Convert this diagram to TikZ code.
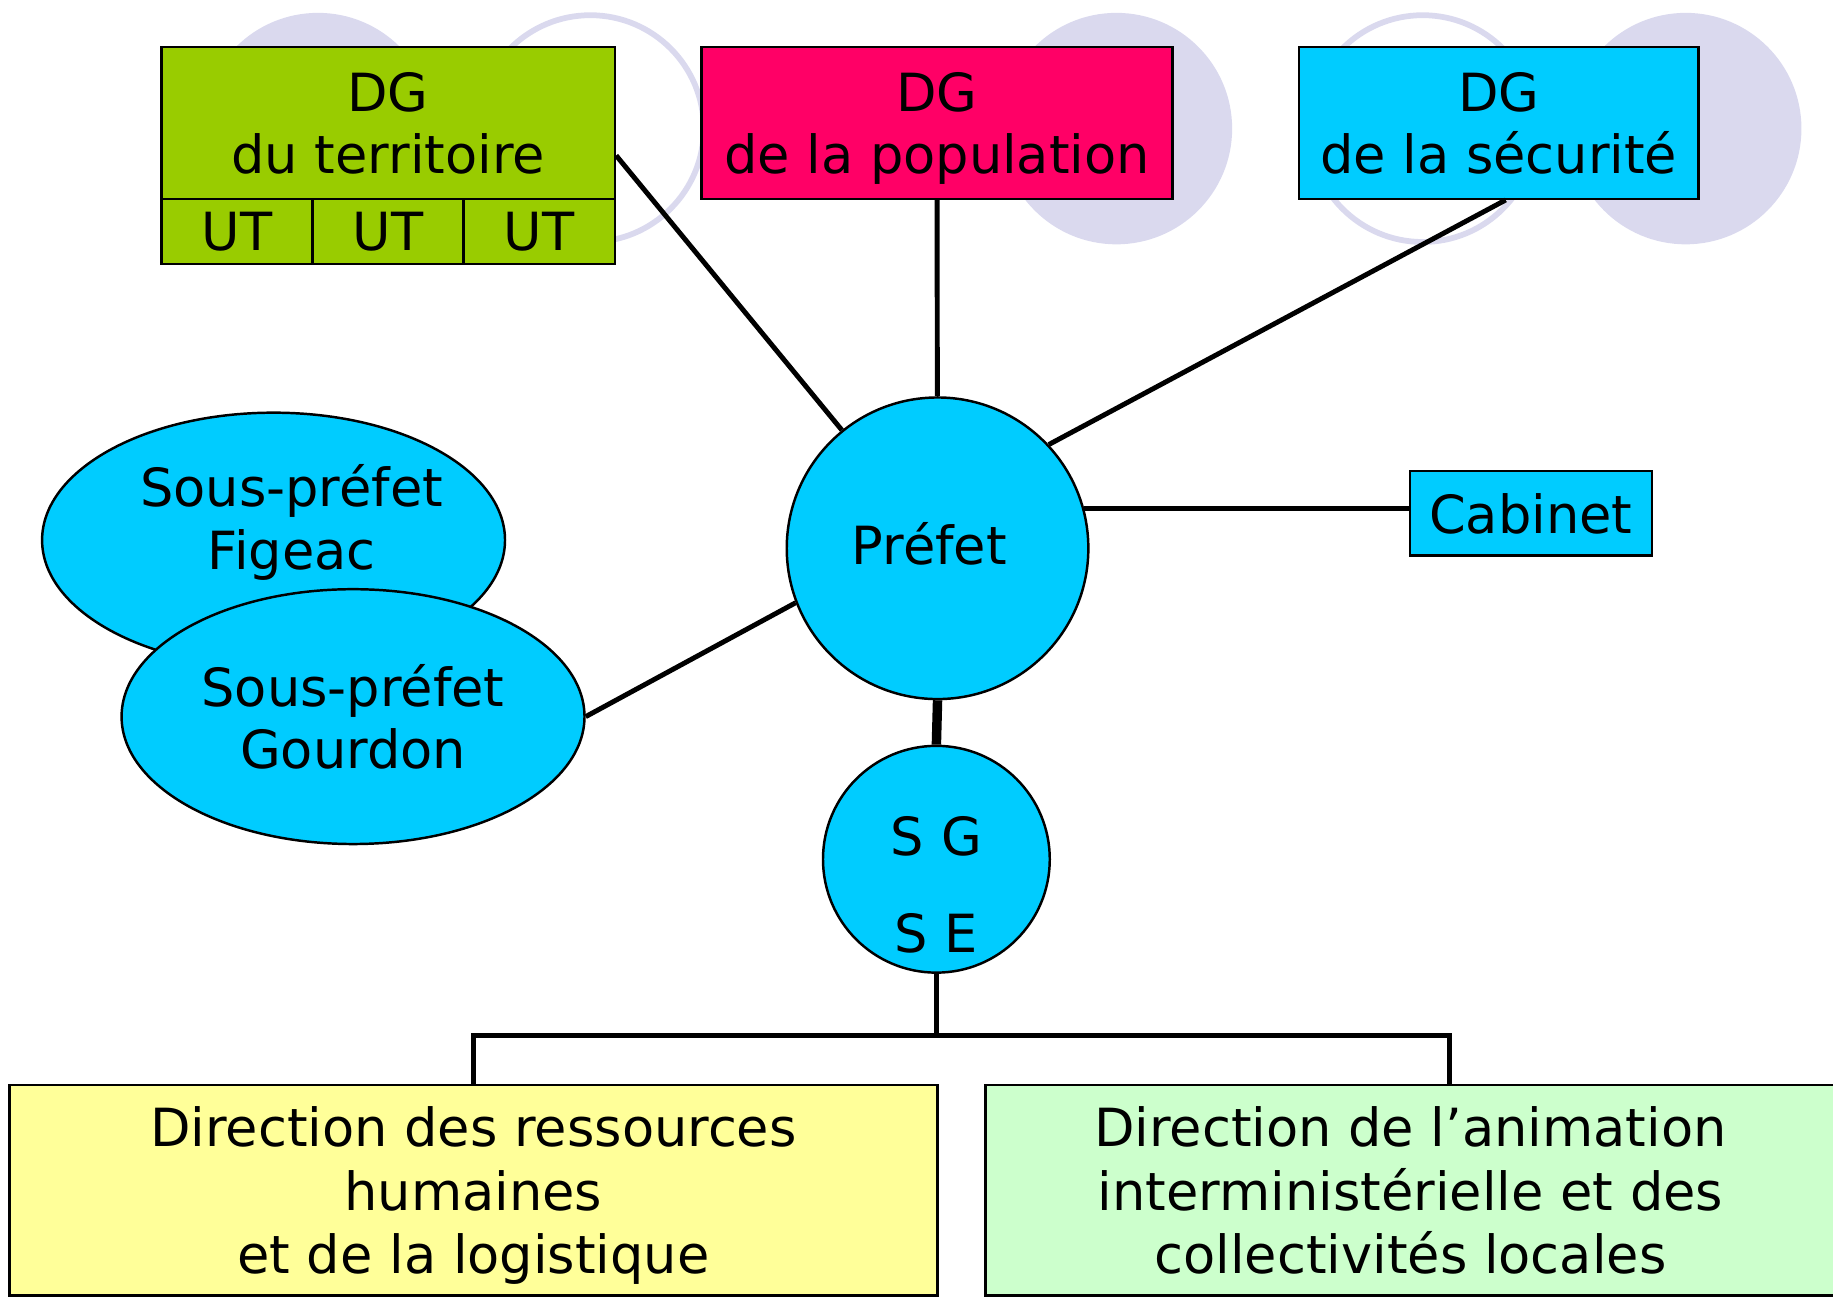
\documentclass[tikz,border=0pt]{standalone}
\usepackage{fontspec}
\setmainfont{DejaVu Sans}
\usetikzlibrary{shapes.geometric}
\definecolor{vert}{HTML}{99CC00}
\definecolor{rose}{HTML}{FF0066}
\definecolor{ciel}{HTML}{00CCFF}
\definecolor{jaune}{HTML}{FFFF99}
\definecolor{menthe}{HTML}{CCFFCC}
\definecolor{lavande}{HTML}{DAD9EE}
\tikzset{
  boite/.style={draw,line width=0.6pt,rectangle,inner sep=0pt,align=center,text depth=0pt},
  blob/.style={draw,line width=0.6pt,ellipse,fill=ciel,inner sep=0pt,minimum width=3.96cm,minimum height=2.18cm,align=center},
  rond/.style={draw,line width=0.6pt,circle,fill=ciel,inner sep=0pt},
  lien/.style={line width=1.2pt},
  bulle/.style={fill=lavande},
  anneau/.style={draw=lavande,line width=1.4pt}
}
\begin{document}
\begin{tikzpicture}[font=\fontsize{12.8}{15.2}\selectfont]
  \clip (0,0) rectangle (15.68,-11.11);
  \fill[bulle] (2.72,-1.1) circle (0.99) (9.55,-1.1) circle (0.99) (14.42,-1.1) circle (0.99);
  \draw[anneau] (5.05,-1.1) circle (0.97) (12.17,-1.1) circle (0.97);
  \node[boite,fill=vert,minimum width=3.88cm,minimum height=1.3cm] (terr) at (3.32,-1.05) {DG\\du territoire};
  \node[boite,fill=vert,minimum width=1.293cm,minimum height=0.56cm] (ut1) at (2.027,-1.98) {UT};
  \node[boite,fill=vert,minimum width=1.293cm,minimum height=0.56cm] (ut2) at (3.32,-1.98) {UT};
  \node[boite,fill=vert,minimum width=1.293cm,minimum height=0.56cm] (ut3) at (4.613,-1.98) {UT};
  \node[boite,fill=rose,minimum width=4.03cm,minimum height=1.3cm] (pop) at (8.015,-1.05) {DG\\de la population};
  \node[boite,fill=ciel,minimum width=3.42cm,minimum height=1.3cm] (secu) at (12.82,-1.05) {DG\\de la sécurité};
  \node[rond,minimum size=2.58cm,label={[xshift=-0.7mm,yshift=0.4mm]center:Préfet}] (prefet) at (8.02,-4.69) {};
  \node[boite,fill=ciel,minimum width=2.07cm,minimum height=0.72cm] (cabinet) at (13.095,-4.39) {Cabinet};
  \node[blob,label={[align=center,shift={(0.155,0.15)}]center:{Sous-préfet\\Figeac}}] (figeac) at (2.34,-4.62) {};
  \node[blob] (gourdon) at (3.02,-6.13) {Sous-préfet\\Gourdon};
  \node[rond,minimum size=1.94cm,label={[align=center,yshift=-2.2mm]center:{S G\\[8.5pt]S E}}] (sg) at (8.01,-7.35) {};
  \node[boite,fill=jaune,minimum width=7.94cm,minimum height=1.8cm,font=\fontsize{12.8}{15.5}\selectfont] (drh) at (4.05,-10.18) {Direction des ressources\\humaines\\et de la logistique};
  \node[boite,fill=menthe,minimum width=7.27cm,minimum height=1.8cm,font=\fontsize{12.8}{15.5}\selectfont] (dacl) at (12.065,-10.18) {Direction de l’animation\\interministérielle et des\\collectivités locales};
  \draw[lien] ([yshift=-2.8mm]terr.east) -- (prefet.129);
  \draw[lien] (pop) -- (prefet);
  \draw[lien] ([xshift=0.6mm]secu.south) -- (prefet.43);
  \draw[lien] (prefet.15) -- (prefet.15 -| cabinet.west);
  \draw[lien] (gourdon.east) -- (prefet.201);
  \draw[line width=2.3pt] (prefet.south) -- (sg.north);
  \coordinate (jg) at (4.05,-8.86);
  \coordinate (jd) at (12.4,-8.86);
  \draw[lien] (sg.south) -- (sg.south |- jg);
  \draw[lien] (drh.north) -- (jg) -- (jd) -- (jd |- dacl.north);
\end{tikzpicture}
\end{document}
